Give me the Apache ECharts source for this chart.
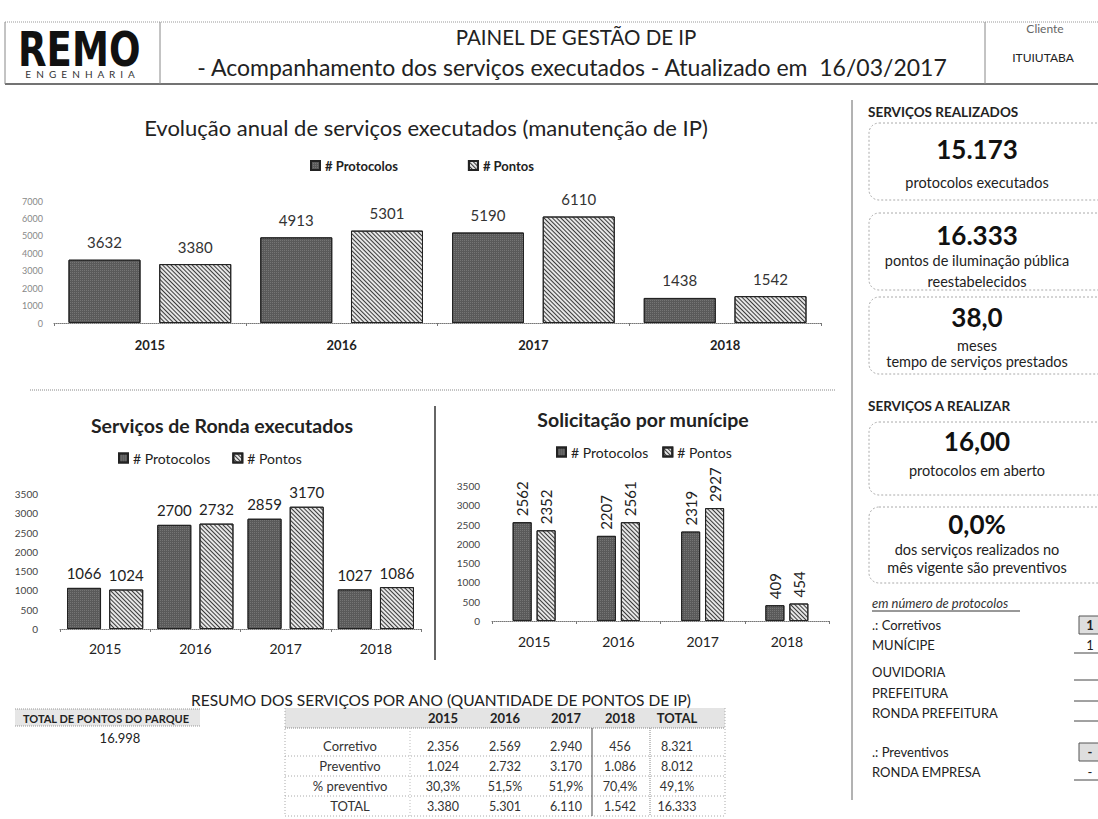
<!DOCTYPE html>
<html><head><meta charset="utf-8">
<script src="https://cdn.jsdelivr.net/npm/echarts@6/dist/echarts.min.js"></script>
<style>html,body{margin:0;padding:0;background:#fff}#c{width:1098px;height:819px}</style>
</head><body><div id="c"></div>
<script>
// ---- data ----
const years = ['2015', '2016', '2017', '2018'];
const anualProtocolos = [3632, 4913, 5190, 1438];
const anualPontos = [3380, 5301, 6110, 1542];
const rondaProtocolos = [1066, 2700, 2859, 1027];
const rondaPontos = [1024, 2732, 3170, 1086];
const municipeProtocolos = [2562, 2207, 2319, 409];
const municipePontos = [2352, 2561, 2927, 454];
const seriesNames = ['# Protocolos', '# Pontos'];

const tableHeader = ['2015', '2016', '2017', '2018', 'TOTAL'];
const tableRowLabels = ['Corretivo', 'Preventivo', '% preventivo', 'TOTAL'];
const rowCorretivo = ['2.356', '2.569', '2.940', '456', '8.321'];
const rowPreventivo = ['1.024', '2.732', '3.170', '1.086', '8.012'];
const rowPctPreventivo = ['30,3%', '51,5%', '51,9%', '70,4%', '49,1%'];
const rowTotal = ['3.380', '5.301', '6.110', '1.542', '16.333'];
const totalPontosParque = '16.998';

const cardValuesRealizados = ['15.173', '16.333', '38,0'];
const cardTextsRealizados = [['protocolos executados'], ['pontos de iluminação pública', 'reestabelecidos'], ['meses', 'tempo de serviços prestados']];
const cardValuesRealizar = ['16,00', '0,0%'];
const cardTextsRealizar = [['protocolos em aberto'], ['dos serviços realizados no', 'mês vigente são preventivos']];
const listLabels = ['.: Corretivos', 'MUNÍCIPE', 'OUVIDORIA', 'PREFEITURA', 'RONDA PREFEITURA', '.: Preventivos', 'RONDA EMPRESA'];
const listValues = ['1', '1', '', '', '', '-', '-'];

// ---- helpers ----
const F = 'Lato, "Noto Sans", sans-serif';
function T(x, y, text, size, o = {}) {
  const el = { type: 'text', x, y, silent: true, z: 10, style: { text, fill: o.color || '#222',
    font: `${o.style || 'normal'} ${o.weight || 'normal'} ${size}px ${o.family || F}`,
    align: o.align || 'center', verticalAlign: 'middle' } };
  if (o.scaleX) el.scaleX = o.scaleX;
  return el;
}
function L(x1, y1, x2, y2, o = {}) {
  return { type: 'line', silent: true, z: 5, shape: { x1, y1, x2, y2 },
    style: { stroke: o.color || '#777', lineWidth: o.w || 1, lineDash: o.dash || null } };
}
function R(x, y, w, h, o = {}) {
  return { type: 'rect', silent: true, z: 1, shape: { x, y, width: w, height: h, r: o.r || 0 },
    style: { fill: o.fill || 'none', stroke: o.stroke || null, lineWidth: o.w || 1, lineDash: o.dash || null } };
}

const protoStyle = { color: '#5a5a5a', borderColor: '#222', borderWidth: 1,
  decal: { symbol: 'rect', symbolSize: 1, dashArrayX: [1, 1], dashArrayY: [1, 1], color: 'rgba(255,255,255,0.16)' } };
const pontosStyle = { color: '#e6e6e6', borderColor: '#222', borderWidth: 1,
  decal: { symbol: 'rect', symbolSize: 1, dashArrayX: [1, 0], dashArrayY: [1, 1.8], rotation: Math.PI / 4, color: '#3a3a3a' } };

// ---- graphics ----
const g = [];
// header
g.push(L(5, 22, 1098, 22, { color: '#999', dash: [1, 1] }));
g.push(L(5, 84, 1098, 84, { color: '#444', w: 1.5 }));
g.push(L(5, 22, 5, 84, { color: '#888' }));
g.push(L(160, 22, 160, 84, { color: '#888' }));
g.push(L(985, 22, 985, 84, { color: '#888' }));
g.push(T(18, 49, 'REMO', 48, { weight: 'bold', align: 'left', color: '#111', scaleX: 0.86, family: '"Liberation Sans Narrow", "DejaVu Sans Condensed", sans-serif' }));
g.push(T(80, 74, 'E  N  G  E  N  H  A  R  I  A', 10, { color: '#333' }));
g.push(T(576, 37, 'PAINEL DE GESTÃO DE IP', 20.5));
g.push(T(572, 67, '- Acompanhamento dos serviços executados - Atualizado em  16/03/2017', 23));
g.push(T(1045, 28, 'Cliente', 12, { color: '#666' }));
g.push(T(1043, 57, 'ITUIUTABA', 12));

// chart titles
g.push(T(426, 127, 'Evolução anual de serviços executados (manutenção de IP)', 22));
g.push(T(222, 425, 'Serviços de Ronda executados', 19.5, { weight: 'bold' }));
g.push(T(643, 419, 'Solicitação por munícipe', 19.5, { weight: 'bold' }));

// dividers
g.push(L(30, 390, 835, 390, { color: '#888', dash: [1, 1] }));
g.push(L(435, 406, 435, 660, { color: '#333', w: 1.5 }));
g.push(L(852, 100, 852, 800, { color: '#666' }));

// right panel
g.push(T(868, 112, 'SERVIÇOS REALIZADOS', 13.5, { weight: 'bold', align: 'left' }));
const cardBoxes1 = [[123, 77], [213, 77], [297, 77]];
const cardValY1 = [149, 235, 317];
const cardTxtY1 = [[182], [260, 281], [345, 361]];
cardValuesRealizados.forEach((v, i) => {
  g.push(R(869, cardBoxes1[i][0], 250, cardBoxes1[i][1], { r: 10, stroke: '#aaa', dash: [2, 2] }));
  g.push(T(977, cardValY1[i], v, 26, { weight: 'bold', color: '#111' }));
  cardTextsRealizados[i].forEach((t, j) => g.push(T(977, cardTxtY1[i][j], t, 14.5)));
});
g.push(T(868, 406, 'SERVIÇOS A REALIZAR', 13.5, { weight: 'bold', align: 'left' }));
const cardBoxes2 = [[422, 73], [507, 76]];
const cardValY2 = [441, 524];
const cardTxtY2 = [[470], [549, 567]];
cardValuesRealizar.forEach((v, i) => {
  g.push(R(869, cardBoxes2[i][0], 250, cardBoxes2[i][1], { r: 10, stroke: '#aaa', dash: [2, 2] }));
  g.push(T(977, cardValY2[i], v, 26, { weight: 'bold', color: '#111' }));
  cardTextsRealizar[i].forEach((t, j) => g.push(T(977, cardTxtY2[i][j], t, 14.5)));
});
g.push(T(872, 603, 'em número de protocolos', 13, { style: 'italic', align: 'left', color: '#333' }));
g.push(L(872, 611, 1020, 611, { color: '#333' }));
const listY = [625, 645, 672, 693, 713, 752, 772];
listLabels.forEach((t, i) => {
  g.push(T(872, listY[i], t, 13, { align: 'left', color: '#222' }));
  const boxed = t.indexOf('.:') === 0;
  if (boxed) {
    g.push(R(1079, listY[i] - 9, 30, 18, { fill: '#dedede', stroke: '#555' }));
  } else {
    g.push(L(1074, listY[i] + 8, 1098, listY[i] + 8, { color: '#444' }));
  }
  if (listValues[i]) g.push(T(1090, listY[i], listValues[i], 13, { weight: boxed ? 'bold' : 'normal' }));
});

// bottom table
g.push(T(441, 700, 'RESUMO DOS SERVIÇOS POR ANO (QUANTIDADE DE PONTOS DE IP)', 15.5));
g.push(R(15, 709, 185, 17, { fill: '#e6e6e6' }));
g.push(L(15, 709, 200, 709, { color: '#999', dash: [1, 1] }));
g.push(L(15, 726, 200, 726, { color: '#999', dash: [1, 1] }));
g.push(T(106, 718, 'TOTAL DE PONTOS DO PARQUE', 11, { weight: 'bold' }));
g.push(T(120, 738, totalPontosParque, 13));
const colX = [443, 505, 566, 620, 677];
const rowY = [746, 766, 786, 806];
g.push(R(285, 708, 440, 20, { fill: '#e4e4e4' }));
tableHeader.forEach((h, i) => g.push(T(colX[i], 718, h, 13, { weight: 'bold' })));
const rows = [rowCorretivo, rowPreventivo, rowPctPreventivo, rowTotal];
rows.forEach((r, ri) => {
  g.push(T(350, rowY[ri], tableRowLabels[ri], 13, { color: '#333' }));
  r.forEach((v, ci) => g.push(T(colX[ci], rowY[ri], v, 12.5, { color: '#333' })));
  g.push(L(285, rowY[ri] + 10, 725, rowY[ri] + 10, { color: '#aaa', dash: [1, 2] }));
});
g.push(L(285, 728, 725, 728, { color: '#888', dash: [1, 1] }));
g.push(L(285, 708, 285, 816, { color: '#aaa', dash: [1, 2] }));
g.push(L(410, 728, 410, 816, { color: '#bbb', dash: [1, 2] }));
g.push(L(592, 728, 592, 816, { color: '#444' }));
g.push(L(650, 728, 650, 816, { color: '#888', dash: [1, 1] }));
g.push(L(725, 708, 725, 816, { color: '#aaa', dash: [1, 2] }));

// ---- chart ----
function xAx(gi, margin, font) {
  return { type: 'category', gridIndex: gi, data: years,
    axisLine: { lineStyle: { color: '#777', type: 'dotted' } },
    axisTick: { show: true, length: 3, lineStyle: { color: '#777' } },
    axisLabel: Object.assign({ margin, color: '#222', fontFamily: F }, font) };
}
function yAx(gi, max, interval, margin, font) {
  return { type: 'value', gridIndex: gi, min: 0, max, interval,
    splitLine: { show: false }, axisLine: { show: false }, axisTick: { show: false },
    axisLabel: Object.assign({ margin, fontFamily: F, formatter: v => String(v) }, font) };
}
function bar(name, data, gi, style, bw, gap, label) {
  return { type: 'bar', name, data, xAxisIndex: gi, yAxisIndex: gi, barWidth: bw, barGap: gap,
    itemStyle: style, label: Object.assign({ show: true, position: 'top', color: '#222', fontFamily: F }, label),
    silent: true };
}
const legendBase = { icon: 'rect', itemWidth: 9, itemHeight: 9, data: seriesNames, selectedMode: false };

const chart = echarts.init(document.getElementById('c'), null, { renderer: 'svg' });
chart.setOption({
  backgroundColor: '#ffffff',
  animation: false,
  grid: [
    { left: 54, top: 201, width: 767, height: 122 },
    { left: 60, top: 494, width: 361, height: 135 },
    { left: 492, top: 486, width: 337, height: 135 }
  ],
  xAxis: [
    xAx(0, 15, { fontSize: 13, fontWeight: 'bold' }),
    xAx(1, 12, { fontSize: 14 }),
    xAx(2, 13, { fontSize: 14 })
  ],
  yAxis: [
    yAx(0, 7000, 1000, 11, { fontSize: 9, color: '#888' }),
    yAx(1, 3500, 500, 22, { fontSize: 10, color: '#444' }),
    yAx(2, 3500, 500, 12, { fontSize: 10, color: '#444' })
  ],
  legend: [
    Object.assign({ left: 305, top: 154, itemGap: 70, textStyle: { fontFamily: F, fontSize: 13, fontWeight: 'bold', color: '#222' } }, legendBase),
    Object.assign({ left: 113, top: 446, itemGap: 22, textStyle: { fontFamily: F, fontSize: 14, color: '#222' } }, legendBase),
    Object.assign({ left: 551, top: 440, itemGap: 14, textStyle: { fontFamily: F, fontSize: 14, color: '#222' } }, legendBase)
  ],
  series: [
    bar(seriesNames[0], anualProtocolos, 0, protoStyle, 72, '26%', { fontSize: 15, distance: 10, color: '#333' }),
    bar(seriesNames[1], anualPontos, 0, pontosStyle, 72, '26%', { fontSize: 15, distance: 10, color: '#333' }),
    bar(seriesNames[0], rondaProtocolos, 1, protoStyle, 34, '24%', { fontSize: 15, distance: 7 }),
    bar(seriesNames[1], rondaPontos, 1, pontosStyle, 34, '24%', { fontSize: 15, distance: 7 }),
    bar(seriesNames[0], municipeProtocolos, 2, protoStyle, 19, '26%', { fontSize: 15, distance: 6, rotate: 90, align: 'left', verticalAlign: 'middle' }),
    bar(seriesNames[1], municipePontos, 2, pontosStyle, 19, '26%', { fontSize: 15, distance: 6, rotate: 90, align: 'left', verticalAlign: 'middle' })
  ],
  graphic: { elements: g }
});
</script>
</body></html>
